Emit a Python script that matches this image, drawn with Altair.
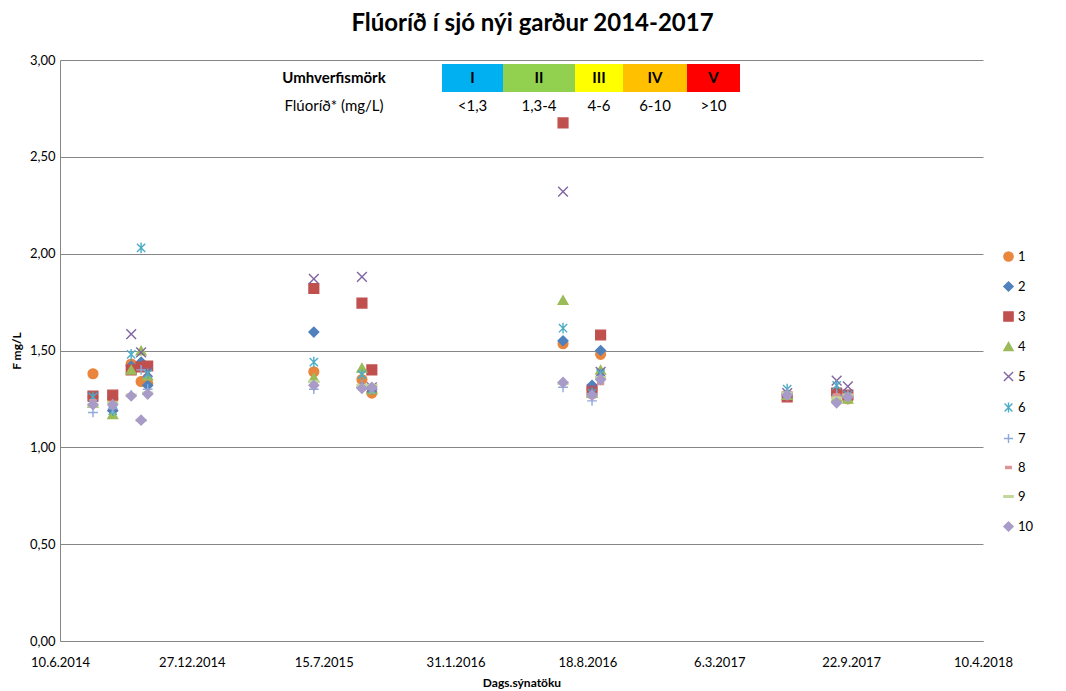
import altair as alt
import pandas as pd

# ---------------- data ----------------
series = ["1", "2", "3", "4", "5", "6", "7", "8", "9", "10"]
dates = ["2014-07-30", "2014-08-29", "2014-09-26", "2014-10-11", "2014-10-21",
         "2015-06-30", "2015-09-11", "2015-09-26",
         "2016-07-12", "2016-08-25", "2016-09-07",
         "2017-06-17", "2017-08-31", "2017-09-17"]

s1 = [1.38, 1.25, 1.43, 1.34, 1.33, 1.39, 1.35, 1.28, 1.535, 1.30, 1.48, 1.27, 1.27, 1.25]
s2 = [1.26, 1.19, 1.42, 1.44, 1.32, 1.595, 1.31, 1.30, 1.55, 1.32, 1.50, 1.27, 1.27, 1.26]
s3 = [1.265, 1.27, 1.40, 1.415, 1.42, 1.82, 1.745, 1.40, 2.675, 1.29, 1.58, 1.26, 1.28, 1.27]
s4 = [1.23, 1.17, 1.40, 1.50, 1.37, 1.36, 1.41, 1.30, 1.76, 1.28, 1.40, 1.27, 1.26, 1.25]
s5 = [1.26, 1.21, 1.585, 1.49, 1.39, 1.87, 1.88, 1.31, 2.32, 1.30, 1.39, 1.28, 1.345, 1.315]
s6 = [1.26, 1.19, 1.48, 2.03, 1.38, 1.44, 1.375, 1.30, 1.615, 1.28, 1.38, 1.30, 1.32, 1.27]
s7 = [1.18, 1.20, 1.27, 1.40, 1.30, 1.30, 1.32, 1.30, 1.31, 1.24, 1.36, 1.28, 1.27, 1.26]
s8 = [1.24, 1.22, 1.27, 1.14, 1.28, 1.33, 1.30, 1.31, 1.33, 1.26, 1.33, 1.26, 1.27, 1.27]
s9 = [1.22, 1.23, 1.27, 1.14, 1.28, 1.34, 1.32, 1.32, 1.33, 1.27, 1.36, 1.28, 1.255, 1.27]
s10 = [1.22, 1.22, 1.265, 1.14, 1.275, 1.32, 1.305, 1.31, 1.335, 1.27, 1.35, 1.27, 1.23, 1.26]
values = [s1, s2, s3, s4, s5, s6, s7, s8, s9, s10]

y_ticks = [0.0, 0.5, 1.0, 1.5, 2.0, 2.5, 3.0]
x_tick_dates = ["2014-06-10", "2014-12-27", "2015-07-15", "2016-01-31",
                "2016-08-18", "2017-03-06", "2017-09-22", "2018-04-10"]

table_classes = ["I", "II", "III", "IV", "V"]
table_ranges = ["<1,3", "1,3-4", "4-6", "6-10", ">10"]
table_colors = ["#00B0F0", "#92D050", "#FFFF00", "#FFC000", "#FF0000"]
table_row_titles = ["Umhverfismörk", "Flúoríð* (mg/L)"]

# ---------------- styles ----------------
FONT = "Lato"
colors = ["#E9853C", "#4F81BD", "#C0504D", "#9BBB59", "#8064A2",
          "#4BACC6", "#8EA9DB", "#D99694", "#C3D69B", "#A99BC8"]
shapes = ["circle", "diamond", "square", "triangle-up",
          "M-1,-1L1,1M1,-1L-1,1",
          "M-0.85,-0.85L0.85,0.85M0.85,-0.85L-0.85,0.85M0,-1.1L0,1.1",
          "M-1,0L1,0M0,-1L0,1",
          "M-0.6,-0.22L0.6,-0.22L0.6,0.22L-0.6,0.22Z",
          "M-1,-0.18L1,-0.18L1,0.18L-1,0.18Z",
          "diamond"]

rows = []
for s, vals in zip(series, values):
    for d, v in zip(dates, vals):
        rows.append({"series": s, "date": d, "F": v})
df = pd.DataFrame(rows)

def utc_dt(s):
    y, m, d = s.split("-")
    return alt.DateTime(year=int(y), month=int(m), date=int(d), utc=True)

x_domain = [utc_dt(x_tick_dates[0]), utc_dt(x_tick_dates[-1])]

points = alt.Chart(df).mark_point(filled=True, size=95, strokeWidth=1.4, opacity=1).encode(
    x=alt.X("date:T",
            scale=alt.Scale(type="utc", domain=x_domain),
            axis=alt.Axis(values=[utc_dt(d) for d in x_tick_dates],
                          labelExpr="utcFormat(datum.value, '%-d.%-m.%Y')",
                          title="Dags.sýnatöku", grid=False, ticks=False,
                          labelFlush=False, labelOverlap=False,
                          labelPadding=15, titlePadding=8, titleFontSize=12)),
    y=alt.Y("F:Q",
            scale=alt.Scale(domain=[0, 3], nice=False, zero=True),
            axis=alt.Axis(values=y_ticks,
                          labelExpr="replace(format(datum.value, '.2f'), '.', ',')",
                          title="F mg/L", grid=True, ticks=False,
                          labelPadding=5, titlePadding=6, titleFontSize=12)),
    fill=alt.Fill("series:N", scale=alt.Scale(domain=series, range=colors),
                  sort=series,
                  legend=alt.Legend(title=None, orient="none", legendX=942, legendY=190,
                                    rowPadding=15, symbolSize=85, labelFontSize=13,
                                    labelFont=FONT, labelColor="#000000",
                                    symbolStrokeWidth=1.4, labelOffset=3)),
    stroke=alt.Stroke("series:N", scale=alt.Scale(domain=series, range=colors), sort=series),
    shape=alt.Shape("series:N", scale=alt.Scale(domain=series, range=shapes), sort=series),
)

# ---------------- classification table (annotation, pixel layout) ----------------
edges = [382, 443, 515, 563, 627, 680]
box_df = pd.DataFrame({
    "cls": table_classes,
    "rng": table_ranges,
    "col": table_colors,
    "x0": edges[:-1],
    "x1": edges[1:],
})
box_df["xc"] = (box_df["x0"] + box_df["x1"]) / 2
box_df["y0"] = 4
box_df["y1"] = 32
box_df["yc"] = 18
box_df["yr"] = 46

boxes = alt.Chart(box_df).mark_rect().encode(
    x=alt.X("x0:Q", scale=None, axis=None),
    x2="x1",
    y=alt.Y("y0:Q", scale=None, axis=None),
    y2="y1",
    color=alt.Color("col:N", scale=None, legend=None),
)
cls_text = alt.Chart(box_df).mark_text(font=FONT, fontSize=15, fontWeight="bold",
                                       color="#000000", baseline="middle").encode(
    x=alt.X("xc:Q", scale=None, axis=None),
    y=alt.Y("yc:Q", scale=None, axis=None),
    text="cls:N",
)
rng_text = alt.Chart(box_df).mark_text(font=FONT, fontSize=15, color="#000000",
                                       baseline="middle").encode(
    x=alt.X("xc:Q", scale=None, axis=None),
    y=alt.Y("yr:Q", scale=None, axis=None),
    text="rng:N",
)
head_df = pd.DataFrame({"t": table_row_titles, "x": [274, 274], "y": [18, 46]})
head_bold = alt.Chart(head_df.iloc[[0]]).mark_text(font=FONT, fontSize=15, fontWeight="bold",
                                                  color="#000000", baseline="middle").encode(
    x=alt.X("x:Q", scale=None, axis=None),
    y=alt.Y("y:Q", scale=None, axis=None),
    text="t:N",
)
head_norm = alt.Chart(head_df.iloc[[1]]).mark_text(font=FONT, fontSize=15,
                                                  color="#000000", baseline="middle").encode(
    x=alt.X("x:Q", scale=None, axis=None),
    y=alt.Y("y:Q", scale=None, axis=None),
    text="t:N",
)

chart = alt.layer(points, boxes, cls_text, rng_text, head_bold, head_norm).resolve_scale(
    x="independent", y="independent"
).properties(
    width=923, height=581,
    autosize=alt.AutoSizeParams(type="none"),
    padding={"left": 52, "top": 52, "right": 75, "bottom": 49},
    title=alt.Title("Flúoríð í sjó nýi garður 2014-2017", font=FONT, fontSize=24,
                    fontWeight="bold", color="#000000", anchor="middle", dx=11, offset=18),
).configure_view(stroke=None).configure_axis(
    labelFont=FONT, labelFontSize=13, labelColor="#000000",
    titleFont=FONT, titleFontSize=13, titleFontWeight="bold", titleColor="#000000",
    domainColor="#868686", gridColor="#868686", domainWidth=1, gridWidth=1,
)

chart.save("out.html", embed_options={"renderer": "svg", "actions": False})
